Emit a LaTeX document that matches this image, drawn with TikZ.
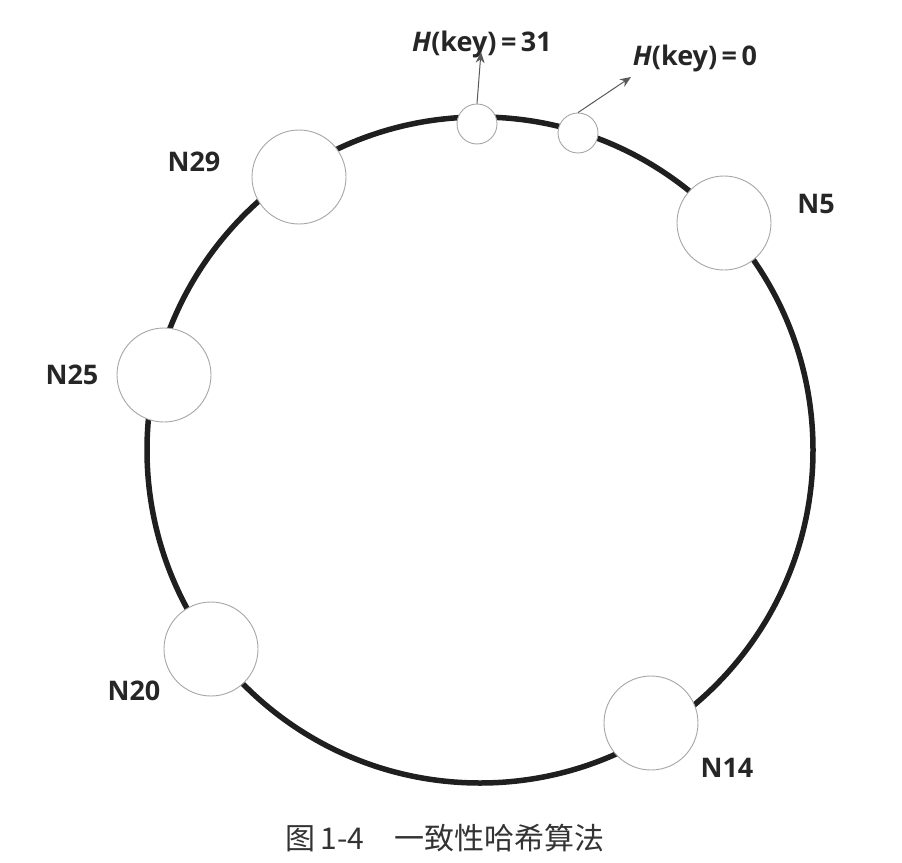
\documentclass[tikz,border=0pt]{standalone}
\usepackage{fontspec}
\setmainfont{Open Sans}
\newfontfamily\cjk{Noto Sans CJK SC}
\usetikzlibrary{arrows.meta}
\begin{document}
\begin{tikzpicture}[x=1pt,y=-1pt,
  ring/.style={draw=black!88,line width=5.5pt},
  vnode/.style={circle,draw=black!35,line width=0.9pt,fill=white,inner sep=0pt},
  bignode/.style={vnode,minimum size=94pt},
  keynode/.style={vnode,minimum size=40pt},
  lbl/.style={font=\fontsize{27}{30}\selectfont\bfseries,text=black!85,inner sep=0pt},
  arr/.style={draw=black!65,line width=1pt,-{Stealth[length=11pt,width=9pt]}}]
\useasboundingbox (0,0) rectangle (902,862);
\node[circle,ring,minimum size=666pt,inner sep=0pt] (ring) at (480,450) {};
\node[keynode] (k31) at (477,124) {};
\node[keynode] (k0) at (578,133) {};
\node[bignode] (n29) at (299,177) {};
\node[bignode] (n5) at (724,223) {};
\node[bignode] (n25) at (164,375) {};
\node[bignode] (n20) at (211,649) {};
\node[bignode] (n14) at (651,723) {};
\node[lbl] (t29) at (194,162) {N29};
\node[lbl] (t5) at (816,204) {N5};
\node[lbl] (t25) at (72,375) {N25};
\node[lbl] (t20) at (134,691) {N20};
\node[lbl] (t14) at (727,768) {N14};
\node[lbl] (h31) at (482,44) {\textit{H}(key)\,=\,31};
\node[lbl] (h0) at (695,58) {\textit{H}(key)\,=\,0};
\coordinate (a31) at (481,52);
\coordinate (a0) at (631,77);
\draw[arr] (k31.north) -- (a31);
\draw[arr] (k0.north) -- (a0);
\node[font=\cjk\fontsize{30}{33}\selectfont,text=black!80,inner sep=0pt] (cap) at (445,838) {图\,1-4\quad 一致性哈希算法};
\end{tikzpicture}
\end{document}
